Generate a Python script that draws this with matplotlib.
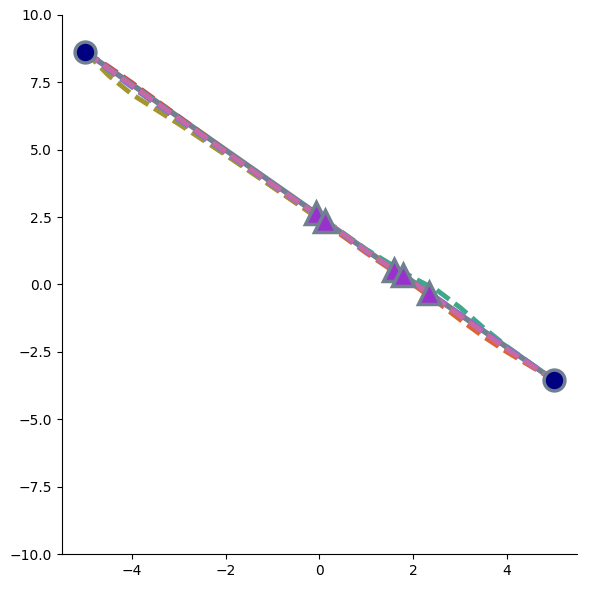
import matplotlib
matplotlib.use("Agg")
import matplotlib.pyplot as plt

# main path
path_x = [-5.0, -0.08, 0.11, 1.60, 1.79, 2.34, 5.0]
path_y = [8.63, 2.65, 2.36, 0.54, 0.35, -0.31, -3.54]

# triangle waypoints
tri_x = [-0.08, 0.11, 1.60, 1.79, 2.34]
tri_y = [2.65, 2.36, 0.54, 0.35, -0.31]

# endpoints
end_x = [-5.0, 5.0]
end_y = [8.63, -3.54]

# dashed sample paths
dash_x = [-5.0, -4.5, -4.0, -3.0, -2.0, -1.0, 0.0, 1.0, 2.0, 2.5, 3.0, 3.5, 4.0, 5.0]
dash_series = {
    "red":    [8.63, 8.08, 7.48, 6.22, 4.96, 3.70, 2.48, 1.23, 0.06, -0.55, -1.18, -1.80, -2.42, -3.54],
    "orange": [8.63, 7.96, 7.33, 6.07, 4.84, 3.62, 2.42, 1.17, 0.00, -0.63, -1.30, -1.93, -2.50, -3.54],
    "olive":  [8.63, 7.75, 7.05, 5.95, 4.80, 3.62, 2.45, 1.27, 0.12, -0.50, -1.12, -1.73, -2.36, -3.54],
    "green":  [8.63, 8.03, 7.42, 6.18, 4.95, 3.72, 2.53, 1.30, 0.25, -0.20, -0.85, -1.60, -2.30, -3.54],
    "blue":   [8.63, 7.95, 7.32, 6.10, 4.88, 3.68, 2.50, 1.22, 0.08, -0.50, -1.12, -1.74, -2.36, -3.54],
    "purple": [8.63, 7.99, 7.37, 6.14, 4.91, 3.70, 2.51, 1.24, 0.10, -0.50, -1.10, -1.72, -2.35, -3.54],
    "pink":   [8.63, 8.00, 7.38, 6.15, 4.92, 3.71, 2.52, 1.25, 0.07, -0.54, -1.16, -1.78, -2.40, -3.54],
}
dash_colors = {
    "red": "#d8404f",
    "orange": "#dc6430",
    "olive": "#a39530",
    "green": "#3ea889",
    "blue": "#5a88d8",
    "purple": "#a060dc",
    "pink": "#c56aa6",
}

fig = plt.figure(figsize=(5.9, 5.89), dpi=100)
ax = fig.add_axes([0.105, 0.0594, 0.873, 0.9152])

ax.plot(path_x, path_y, color="slategray", lw=4, zorder=2)
for name, ys in dash_series.items():
    ax.plot(dash_x, ys, color=dash_colors[name], lw=3.5, ls=(0, (3.2, 1.4)), zorder=3)
ax.plot(tri_x, tri_y, ls="none", marker="^", ms=16, mfc="darkorchid",
        mec="slategray", mew=2.5, zorder=4)
ax.plot(end_x, end_y, ls="none", marker="o", ms=15, mfc="navy",
        mec="slategray", mew=2.5, zorder=5)

ax.set_xlim(-5.5, 5.5)
ax.set_ylim(-10, 10)
ax.set_xticks([-4, -2, 0, 2, 4])
ax.set_yticks([-10, -7.5, -5, -2.5, 0, 2.5, 5, 7.5, 10])
ax.spines["top"].set_visible(False)
ax.spines["right"].set_visible(False)

fig.savefig("out.png", dpi=100)
